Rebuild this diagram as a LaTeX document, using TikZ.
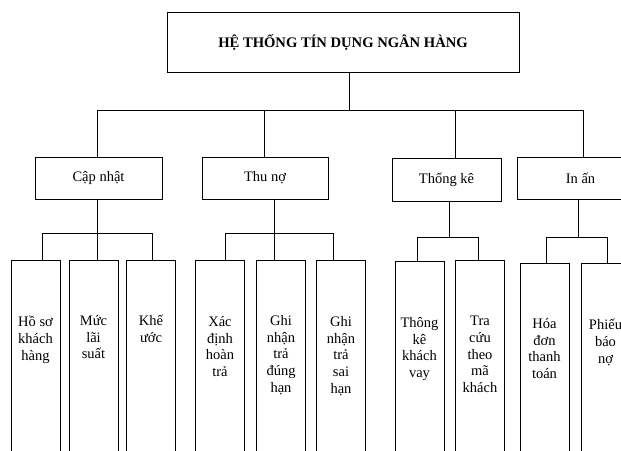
\documentclass[tikz,border=0pt]{standalone}
\usepackage{fontspec}
\setmainfont{Liberation Serif}
\begin{document}
\begin{tikzpicture}[x=1pt,y=-1pt,
  line width=0.8pt,
  rootbox/.style={draw, rectangle, minimum width=352pt, minimum height=60pt,
    font=\fontsize{14.6}{16}\selectfont\bfseries},
  groupbox/.style={draw, rectangle, minimum height=42pt,
    font=\fontsize{14.5}{17}\selectfont},
  leafbox/.style={draw, rectangle, minimum width=49pt, minimum height=200pt, anchor=north},
  leaftext/.style={anchor=north, align=center,
    font=\fontsize{14.5}{16.7}\selectfont, inner sep=0pt}
]
\useasboundingbox (0,0) rectangle (621,450);
\clip (0,0) rectangle (621,450);

% root
\node[rootbox] (root) at (343,42) {HỆ THỐNG TÍN DỤNG NGÂN HÀNG};

% second level
\node[groupbox, minimum width=127pt] (g1) at (98.5,178) {Cập nhật};
\node[groupbox, minimum width=126pt] (g2) at (265,178) {Thu nợ};
\node[groupbox, minimum width=109pt, minimum height=43pt] (g3) at (446.5,179.5) {Thống kê};
\node[groupbox, minimum width=127pt] (g4) at (580.5,178) {In ấn};

% main bus
\coordinate (rb) at (349,110);
\coordinate (m1) at (97,110);
\coordinate (m2) at (264,110);
\coordinate (m3) at (455,110);
\coordinate (m4) at (583,110);
\draw (root.south -| rb) -- (rb);
\draw (m1) -- (m4);
\foreach \i in {1,...,4} \draw (m\i) -- (m\i |- g\i.north);

% leaves
\node[leafbox] (b1) at (35.5,260) {};
\node[leafbox] (b2) at (93.5,260) {};
\node[leafbox] (b3) at (151,260) {};
\node[leafbox] (b4) at (220,260) {};
\node[leafbox] (b5) at (281,260) {};
\node[leafbox] (b6) at (341,260) {};
\node[leafbox] (b7) at (419.5,261) {};
\node[leafbox] (b8) at (480,260) {};
\node[leafbox] (b9) at (544.5,263) {};
\node[leafbox] (b10) at (605.5,263) {};

\node[leaftext] (t1) at ([yshift=-56pt]b1.north) {Hồ sơ\\khách\\hàng};
\node[leaftext] (t2) at ([yshift=-55pt]b2.north) {Mức\\lãi\\suất};
\node[leaftext] (t3) at ([yshift=-55pt]b3.north) {Khế\\ước};
\node[leaftext] (t4) at ([yshift=-56pt]b4.north) {Xác\\định\\hoàn\\trả};
\node[leaftext] (t5) at ([yshift=-55pt]b5.north) {Ghi\\nhận\\trả\\đúng\\hạn};
\node[leaftext] (t6) at ([yshift=-56pt]b6.north) {Ghi\\nhận\\trả\\sai\\hạn};
\node[leaftext] (t7) at ([yshift=-56pt]b7.north) {Thông\\kê\\khách\\vay};
\node[leaftext] (t8) at ([yshift=-56pt]b8.north) {Tra\\cứu\\theo\\mã\\khách};
\node[leaftext] (t9) at ([yshift=-55pt]b9.north) {Hóa\\đơn\\thanh\\toán};
\node[leaftext] (t10) at ([yshift=-56pt]b10.north) {Phiếu\\báo\\nợ};

% sub buses
\coordinate (s1) at (97,233);
\coordinate (s1a) at (42,233);
\coordinate (s1b) at (152,233);
\draw (g1.south -| s1) -- (s1);
\draw (s1a) -- (s1b);
\draw (s1a) -- (s1a |- b1.north);
\draw (s1) -- (s1 |- b2.north);
\draw (s1b) -- (s1b |- b3.north);

\coordinate (s2) at (274,233);
\coordinate (s2a) at (225,233);
\coordinate (s2b) at (333,233);
\draw (g2.south -| s2) -- (s2 |- b5.north);
\draw (s2a) -- (s2b);
\draw (s2a) -- (s2a |- b4.north);
\draw (s2b) -- (s2b |- b6.north);

\coordinate (s3) at (449,237);
\coordinate (s3a) at (417,237);
\coordinate (s3b) at (478,237);
\draw (g3.south -| s3) -- (s3);
\draw (s3a) -- (s3b);
\draw (s3a) -- (s3a |- b7.north);
\draw (s3b) -- (s3b |- b8.north);

\coordinate (s4) at (578,237);
\coordinate (s4a) at (546,237);
\coordinate (s4b) at (607,237);
\draw (g4.south -| s4) -- (s4);
\draw (s4a) -- (s4b);
\draw (s4a) -- (s4a |- b9.north);
\draw (s4b) -- (s4b |- b10.north);
\end{tikzpicture}
\end{document}
